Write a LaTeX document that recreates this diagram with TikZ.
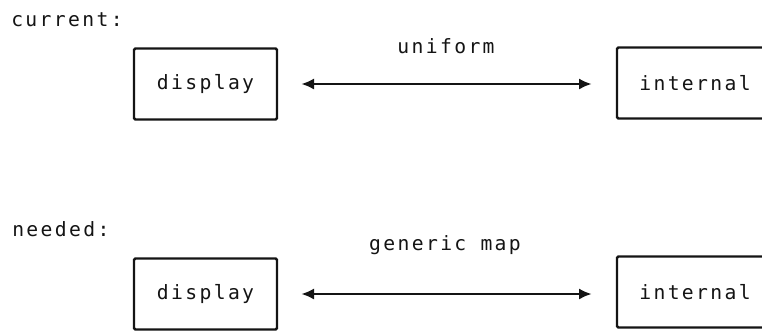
\documentclass[tikz,border=0pt]{standalone}
\usepackage{fontspec}
\usetikzlibrary{arrows.meta,positioning}
\newfontfamily\diagfont[LetterSpace=12]{DejaVu Sans Mono}
\definecolor{DmInk}{RGB}{20,20,20}
\tikzset{
  dm/box/.style={
    draw=DmInk,
    line width=1.7pt,
    rounded corners=1pt,
    fill=white,
    align=center,
    text=DmInk,
    minimum height=71*0.025cm,
    inner sep=0pt,
    font=\diagfont\fontsize{14}{16}\selectfont
  },
  dm/arrow/.style={{Latex[length=3.2mm,width=2.8mm]}-{Latex[length=3.2mm,width=2.8mm]}, line width=2pt, draw=DmInk,
    shorten <=0.575cm, shorten >=0.6cm},
  dm/label/.style={font=\diagfont\fontsize{14}{16}\selectfont, text=DmInk, inner sep=0pt},
  dm/heading/.style={font=\diagfont\fontsize{14}{16}\selectfont, text=DmInk, anchor=west, inner sep=0pt}
}
\begin{document}
\begin{tikzpicture}[x=0.025cm,y=-0.025cm]
  \useasboundingbox (0,0) rectangle (762,330);
  % current
  \node[dm/heading] (curhead) at (11,20) {current:};
  \node[dm/box,minimum width=143*0.025cm] (curdisp) at (205.5,84) {display};
  \node[dm/box,minimum width=156*0.025cm] (curint) at (695,83) {internal};
  \draw[dm/arrow] (curdisp.east) -- (curint.west |- curdisp.east);
  \node[dm/label] (curlab) at (446,46) {uniform};
  % needed
  \node[dm/heading] (needhead) at (12,229) {needed:};
  \node[dm/box,minimum width=143*0.025cm] (needdisp) at (205.5,294) {display};
  \node[dm/box,minimum width=156*0.025cm] (needint) at (695,292) {internal};
  \draw[dm/arrow] (needdisp.east) -- (needint.west |- needdisp.east);
  \node[dm/label] (needlab) at (445,245) {generic map};
\end{tikzpicture}
\end{document}
